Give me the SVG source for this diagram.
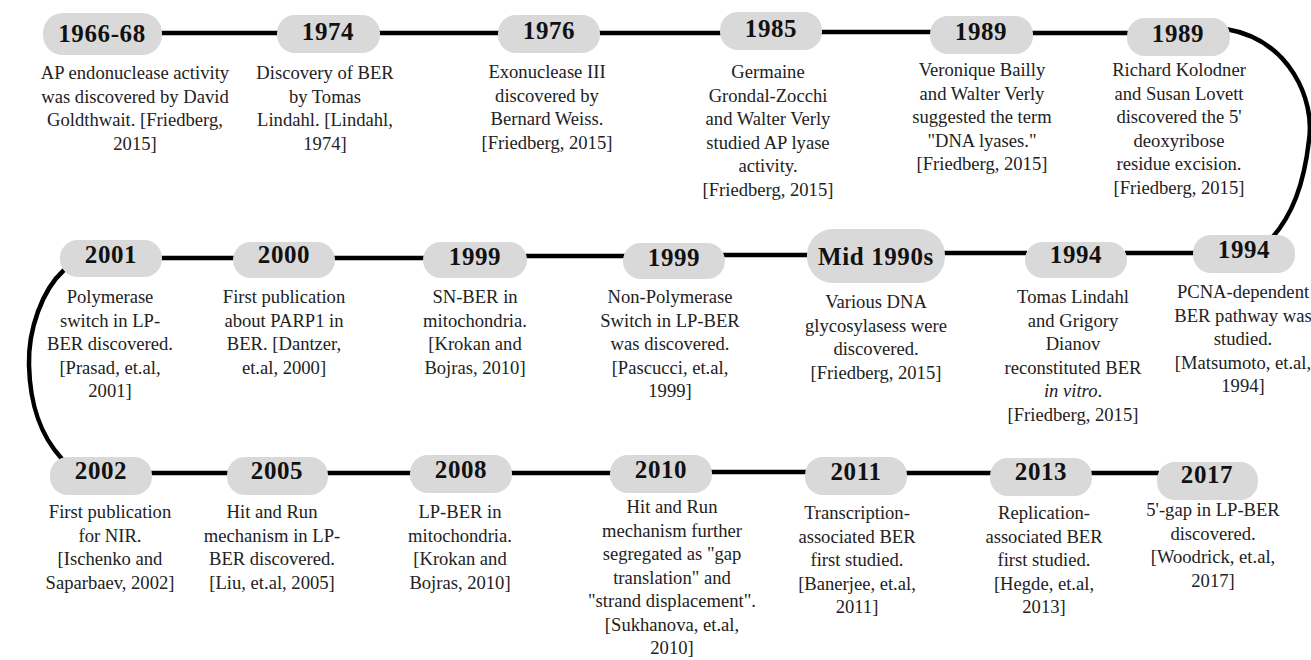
<svg xmlns="http://www.w3.org/2000/svg" width="1311" height="660" viewBox="0 0 1311 660">
<style>
.pill{fill:#d9d9d9}
.yr{font-family:"Liberation Serif","Times New Roman",serif;font-weight:bold;font-size:25px;fill:#111;text-anchor:middle;letter-spacing:0.6px}
.d{font-family:"Liberation Serif","Times New Roman",serif;font-size:18.6px;fill:#222;text-anchor:middle}
.ln{stroke:#000;stroke-width:4.5;fill:none}
</style>
<rect width="1311" height="660" fill="#fff"/>
<g id="connectors">
<line class="ln" x1="160" y1="33" x2="279" y2="33"/>
<line class="ln" x1="378" y1="33" x2="500" y2="33"/>
<line class="ln" x1="598" y1="33" x2="722" y2="33"/>
<line class="ln" x1="820" y1="32" x2="932" y2="32"/>
<line class="ln" x1="1031" y1="33" x2="1129" y2="33"/>
<path class="ln" d="M1226,29 C1290,40 1315,100 1309,140 C1304,185 1292,215 1272,238"/>
<line class="ln" x1="160" y1="258" x2="235" y2="258"/>
<line class="ln" x1="333" y1="258" x2="425" y2="258"/>
<line class="ln" x1="525" y1="256" x2="625" y2="256"/>
<line class="ln" x1="723" y1="255" x2="809" y2="255"/>
<line class="ln" x1="943" y1="253" x2="1027" y2="253"/>
<line class="ln" x1="1125" y1="253" x2="1195" y2="253"/>
<path class="ln" d="M64,270 C42,290 28,330 29,365 C30,405 40,435 62,459"/>
<line class="ln" x1="150" y1="473" x2="229" y2="473"/>
<line class="ln" x1="326" y1="473" x2="412" y2="473"/>
<line class="ln" x1="510" y1="473" x2="612" y2="473"/>
<line class="ln" x1="710" y1="472" x2="807" y2="472"/>
<line class="ln" x1="905" y1="473" x2="992" y2="473"/>
<line class="ln" x1="1090" y1="473" x2="1159" y2="473"/>
</g>
<g id="n1966">
<rect class="pill" x="43" y="13" width="119" height="42" rx="20"/>
<text class="yr" x="102" y="42">1966-68</text>
<text class="d" x="135" y="79">AP endonuclease activity</text>
<text class="d" x="135" y="102.5">was discovered by David</text>
<text class="d" x="135" y="126">Goldthwait. [Friedberg,</text>
<text class="d" x="135" y="149.5">2015]</text>
</g>
<g id="n1974">
<rect class="pill" x="277" y="15" width="103" height="38" rx="18"/>
<text class="yr" x="328" y="40">1974</text>
<text class="d" x="325" y="79">Discovery of BER</text>
<text class="d" x="325" y="102.5">by Tomas</text>
<text class="d" x="325" y="126">Lindahl. [Lindahl,</text>
<text class="d" x="325" y="149.5">1974]</text>
</g>
<g id="n1976">
<rect class="pill" x="498" y="15" width="102" height="38" rx="18"/>
<text class="yr" x="549" y="39">1976</text>
<text class="d" x="547" y="78">Exonuclease III</text>
<text class="d" x="547" y="101.5">discovered by</text>
<text class="d" x="547" y="125">Bernard Weiss.</text>
<text class="d" x="547" y="148.5">[Friedberg, 2015]</text>
</g>
<g id="n1985">
<rect class="pill" x="720" y="12" width="102" height="38" rx="18"/>
<text class="yr" x="771" y="37">1985</text>
<text class="d" x="768" y="78">Germaine</text>
<text class="d" x="768" y="101.5">Grondal-Zocchi</text>
<text class="d" x="768" y="125">and Walter Verly</text>
<text class="d" x="768" y="148.5">studied AP lyase</text>
<text class="d" x="768" y="172">activity.</text>
<text class="d" x="768" y="195.5">[Friedberg, 2015]</text>
</g>
<g id="n1989a">
<rect class="pill" x="930" y="16" width="103" height="38" rx="18"/>
<text class="yr" x="981" y="40">1989</text>
<text class="d" x="982" y="76">Veronique Bailly</text>
<text class="d" x="982" y="99.5">and Walter Verly</text>
<text class="d" x="982" y="123">suggested the term</text>
<text class="d" x="982" y="146.5">"DNA lyases."</text>
<text class="d" x="982" y="170">[Friedberg, 2015]</text>
</g>
<g id="n1989b">
<rect class="pill" x="1127" y="18" width="103" height="38" rx="18"/>
<text class="yr" x="1178" y="42">1989</text>
<text class="d" x="1179" y="76">Richard Kolodner</text>
<text class="d" x="1179" y="99.5">and Susan Lovett</text>
<text class="d" x="1179" y="123">discovered the 5'</text>
<text class="d" x="1179" y="146.5">deoxyribose</text>
<text class="d" x="1179" y="170">residue excision.</text>
<text class="d" x="1179" y="193.5">[Friedberg, 2015]</text>
</g>
<g id="n2001">
<rect class="pill" x="60" y="240" width="102" height="37" rx="18"/>
<text class="yr" x="111" y="263">2001</text>
<text class="d" x="110" y="303">Polymerase</text>
<text class="d" x="110" y="326.5">switch in LP-</text>
<text class="d" x="110" y="350">BER discovered.</text>
<text class="d" x="110" y="373.5">[Prasad, et.al,</text>
<text class="d" x="110" y="397">2001]</text>
</g>
<g id="n2000">
<rect class="pill" x="233" y="242" width="102" height="36" rx="18"/>
<text class="yr" x="284" y="263">2000</text>
<text class="d" x="284" y="303">First publication</text>
<text class="d" x="284" y="326.5">about PARP1 in</text>
<text class="d" x="284" y="350">BER. [Dantzer,</text>
<text class="d" x="284" y="373.5">et.al, 2000]</text>
</g>
<g id="n1999a">
<rect class="pill" x="423" y="242" width="104" height="36" rx="18"/>
<text class="yr" x="475" y="265">1999</text>
<text class="d" x="475" y="303">SN-BER in</text>
<text class="d" x="475" y="326.5">mitochondria.</text>
<text class="d" x="475" y="350">[Krokan and</text>
<text class="d" x="475" y="373.5">Bojras, 2010]</text>
</g>
<g id="n1999b">
<rect class="pill" x="623" y="243" width="102" height="36" rx="18"/>
<text class="yr" x="674" y="266">1999</text>
<text class="d" x="670" y="303">Non-Polymerase</text>
<text class="d" x="670" y="326.5">Switch in LP-BER</text>
<text class="d" x="670" y="350">was discovered.</text>
<text class="d" x="670" y="373.5">[Pascucci, et.al,</text>
<text class="d" x="670" y="397">1999]</text>
</g>
<g id="nmid1990s">
<rect class="pill" x="807" y="229" width="138" height="54" rx="26"/>
<text class="yr" x="876" y="265">Mid 1990s</text>
<text class="d" x="876" y="308">Various DNA</text>
<text class="d" x="876" y="331.5">glycosylasess were</text>
<text class="d" x="876" y="355">discovered.</text>
<text class="d" x="876" y="378.5">[Friedberg, 2015]</text>
</g>
<g id="n1994a">
<rect class="pill" x="1025" y="242" width="102" height="36" rx="18"/>
<text class="yr" x="1076" y="263">1994</text>
<text class="d" x="1073" y="303">Tomas Lindahl</text>
<text class="d" x="1073" y="326.5">and Grigory</text>
<text class="d" x="1073" y="350">Dianov</text>
<text class="d" x="1073" y="373.5">reconstituted BER</text>
<text class="d" x="1073" y="397"><tspan font-style="italic">in vitro</tspan>.</text>
<text class="d" x="1073" y="420.5">[Friedberg, 2015]</text>
</g>
<g id="n1994b">
<rect class="pill" x="1193" y="235" width="102" height="38" rx="18"/>
<text class="yr" x="1244" y="258">1994</text>
<text class="d" x="1243" y="298">PCNA-dependent</text>
<text class="d" x="1243" y="321.5">BER pathway was</text>
<text class="d" x="1243" y="345">studied.</text>
<text class="d" x="1243" y="368.5">[Matsumoto, et.al,</text>
<text class="d" x="1243" y="392">1994]</text>
</g>
<g id="n2002">
<rect class="pill" x="50" y="457" width="102" height="38" rx="18"/>
<text class="yr" x="101" y="479">2002</text>
<text class="d" x="110" y="518">First publication</text>
<text class="d" x="110" y="541.5">for NIR.</text>
<text class="d" x="110" y="565">[Ischenko and</text>
<text class="d" x="110" y="588.5">Saparbaev, 2002]</text>
</g>
<g id="n2005">
<rect class="pill" x="227" y="457" width="101" height="38" rx="18"/>
<text class="yr" x="277" y="479">2005</text>
<text class="d" x="272" y="518">Hit and Run</text>
<text class="d" x="272" y="541.5">mechanism in LP-</text>
<text class="d" x="272" y="565">BER discovered.</text>
<text class="d" x="272" y="588.5">[Liu, et.al, 2005]</text>
</g>
<g id="n2008">
<rect class="pill" x="410" y="455" width="102" height="38" rx="18"/>
<text class="yr" x="461" y="478">2008</text>
<text class="d" x="460" y="518">LP-BER in</text>
<text class="d" x="460" y="541.5">mitochondria.</text>
<text class="d" x="460" y="565">[Krokan and</text>
<text class="d" x="460" y="588.5">Bojras, 2010]</text>
</g>
<g id="n2010">
<rect class="pill" x="610" y="455" width="102" height="38" rx="18"/>
<text class="yr" x="661" y="478">2010</text>
<text class="d" x="672" y="513">Hit and Run</text>
<text class="d" x="672" y="536.5">mechanism further</text>
<text class="d" x="672" y="560">segregated as "gap</text>
<text class="d" x="672" y="583.5">translation" and</text>
<text class="d" x="672" y="607">"strand displacement".</text>
<text class="d" x="672" y="630.5">[Sukhanova, et.al,</text>
<text class="d" x="672" y="654">2010]</text>
</g>
<g id="n2011">
<rect class="pill" x="805" y="457" width="102" height="38" rx="18"/>
<text class="yr" x="856" y="480">2011</text>
<text class="d" x="857" y="519">Transcription-</text>
<text class="d" x="857" y="542.5">associated BER</text>
<text class="d" x="857" y="566">first studied.</text>
<text class="d" x="857" y="589.5">[Banerjee, et.al,</text>
<text class="d" x="857" y="613">2011]</text>
</g>
<g id="n2013">
<rect class="pill" x="990" y="458" width="102" height="38" rx="18"/>
<text class="yr" x="1041" y="480">2013</text>
<text class="d" x="1044" y="519">Replication-</text>
<text class="d" x="1044" y="542.5">associated BER</text>
<text class="d" x="1044" y="566">first studied.</text>
<text class="d" x="1044" y="589.5">[Hegde, et.al,</text>
<text class="d" x="1044" y="613">2013]</text>
</g>
<g id="n2017">
<rect class="pill" x="1157" y="462" width="101" height="38" rx="18"/>
<text class="yr" x="1207" y="483">2017</text>
<text class="d" x="1213" y="516">5'-gap in LP-BER</text>
<text class="d" x="1213" y="539.5">discovered.</text>
<text class="d" x="1213" y="563">[Woodrick, et.al,</text>
<text class="d" x="1213" y="586.5">2017]</text>
</g>
</svg>
